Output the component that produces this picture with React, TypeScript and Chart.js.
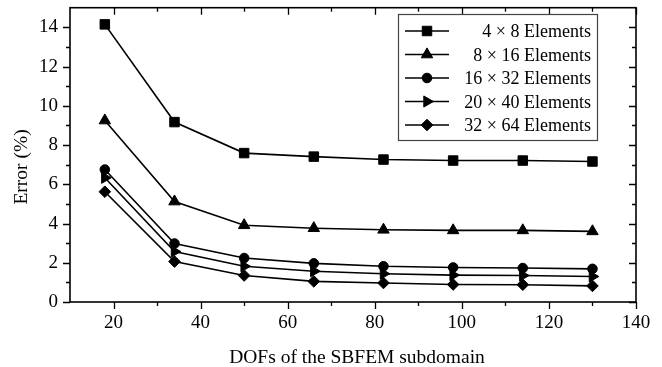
import React, { useEffect, useRef } from 'react';
import { Chart, registerables } from 'chart.js';

Chart.register(...registerables);

// ---- data ----
const dofs = [18, 34, 50, 66, 82, 98, 114, 130];
const err4x8 = [14.15, 9.17, 7.59, 7.41, 7.26, 7.21, 7.21, 7.16];
const err8x16 = [9.25, 5.12, 3.91, 3.76, 3.68, 3.65, 3.65, 3.6];
const err16x32 = [6.75, 2.98, 2.24, 1.97, 1.82, 1.76, 1.73, 1.69];
const err20x40 = [6.33, 2.57, 1.82, 1.57, 1.44, 1.37, 1.35, 1.3];
const err32x64 = [5.62, 2.06, 1.35, 1.05, 0.97, 0.89, 0.88, 0.82];

const seriesLabels = [
  '4 × 8 Elements',
  '8 × 16 Elements',
  '16 × 32 Elements',
  '20 × 40 Elements',
  '32 × 64 Elements',
];

const xTickValues = [20, 40, 60, 80, 100, 120, 140];
const xMinorValues = [30, 50, 70, 90, 110, 130];
const yTickValues = [0, 2, 4, 6, 8, 10, 12, 14];
const yMinorValues = [1, 3, 5, 7, 9, 11, 13];

const xTitle = 'DOFs of the SBFEM subdomain';
const yTitle = 'Error (%)';

const FONT = '"Liberation Serif", "Times New Roman", serif';

const markerStyles = ['rect', 'triangle', 'circle', 'triangle', 'rectRot'];
const markerRotations = [0, 0, 0, 90, 0];
const markerRadii = [6.7, 6.6, 4.8, 6.4, 5.8];

function drawMarker(ctx: CanvasRenderingContext2D, style: string, rot: number, r: number, cx: number, cy: number) {
  ctx.beginPath();
  if (style === 'rect') {
    const s = r * Math.SQRT1_2;
    ctx.rect(cx - s, cy - s, 2 * s, 2 * s);
  } else if (style === 'circle') {
    ctx.arc(cx, cy, r, 0, Math.PI * 2);
  } else if (style === 'triangle') {
    let rad = (rot * Math.PI) / 180;
    ctx.moveTo(cx + Math.sin(rad) * r, cy - Math.cos(rad) * r);
    rad += (2 * Math.PI) / 3;
    ctx.lineTo(cx + Math.sin(rad) * r, cy - Math.cos(rad) * r);
    rad += (2 * Math.PI) / 3;
    ctx.lineTo(cx + Math.sin(rad) * r, cy - Math.cos(rad) * r);
    ctx.closePath();
  } else if (style === 'rectRot') {
    ctx.moveTo(cx, cy - r);
    ctx.lineTo(cx + r, cy);
    ctx.lineTo(cx, cy + r);
    ctx.lineTo(cx - r, cy);
    ctx.closePath();
  }
  ctx.fill();
  ctx.stroke();
}

const framePlugin = {
  id: 'originFrame',
  afterDraw(chart: any) {
    const { ctx, chartArea: a, scales } = chart;
    const xs = scales.x;
    const ys = scales.y;
    const MAJ = 7;
    const MIN = 4;
    ctx.save();
    ctx.strokeStyle = '#000';
    ctx.fillStyle = '#000';
    ctx.lineWidth = 1.6;
    ctx.strokeRect(a.left, a.top, a.right - a.left, a.bottom - a.top);

    ctx.lineWidth = 1.3;
    ctx.beginPath();
    const xTick = (v: number, len: number) => {
      const p = Math.round(xs.getPixelForValue(v)) + 0.5;
      ctx.moveTo(p, a.bottom);
      ctx.lineTo(p, a.bottom + len);
      ctx.moveTo(p, a.top);
      ctx.lineTo(p, a.top + len);
    };
    const yTick = (v: number, len: number) => {
      const p = Math.round(ys.getPixelForValue(v)) + 0.5;
      ctx.moveTo(a.left, p);
      ctx.lineTo(a.left - len, p);
      ctx.moveTo(a.right, p);
      ctx.lineTo(a.right - len, p);
    };
    xTickValues.forEach((v) => xTick(v, MAJ));
    xMinorValues.forEach((v) => xTick(v, MIN));
    yTickValues.forEach((v) => yTick(v, MAJ));
    yMinorValues.forEach((v) => yTick(v, MIN));
    ctx.stroke();

    // legend
    const lx0 = 398, ly0 = 14, lx1 = 597, ly1 = 140;
    ctx.fillStyle = '#fff';
    ctx.fillRect(lx0, ly0, lx1 - lx0, ly1 - ly0);
    ctx.strokeStyle = '#444';
    ctx.lineWidth = 1.2;
    ctx.strokeRect(lx0 + 0.5, ly0 + 0.5, lx1 - lx0, ly1 - ly0);
    ctx.font = `18px ${FONT}`;
    ctx.textAlign = 'right';
    ctx.textBaseline = 'alphabetic';
    seriesLabels.forEach((label, i) => {
      const cy = 31 + i * 23.5;
      ctx.strokeStyle = '#000';
      ctx.fillStyle = '#000';
      ctx.lineWidth = 1.6;
      ctx.beginPath();
      ctx.moveTo(405, cy);
      ctx.lineTo(449, cy);
      ctx.stroke();
      ctx.lineWidth = 1;
      drawMarker(ctx, markerStyles[i], markerRotations[i], markerRadii[i], 427, cy);
      ctx.fillText(label, 591, cy + 6);
    });

    // axis titles
    ctx.fillStyle = '#000';
    ctx.font = `19.5px ${FONT}`;
    ctx.textAlign = 'center';
    ctx.textBaseline = 'alphabetic';
    ctx.fillText(xTitle, 357, 363);
    ctx.save();
    ctx.translate(27, 167);
    ctx.rotate(-Math.PI / 2);
    ctx.fillText(yTitle, 0, 0);
    ctx.restore();

    ctx.restore();
  },
};

export default function App() {
  const canvasRef = useRef<HTMLCanvasElement | null>(null);

  useEffect(() => {
    const canvas = canvasRef.current;
    if (!canvas) return;
    const seriesValues = [err4x8, err8x16, err16x32, err20x40, err32x64];
    const chart = new Chart(canvas, {
      type: 'line',
      data: {
        datasets: seriesValues.map((vals, i) => ({
          label: seriesLabels[i],
          data: dofs.map((d, j) => ({ x: d, y: vals[j] })),
          borderColor: '#000',
          backgroundColor: '#000',
          pointBackgroundColor: '#000',
          pointBorderColor: '#000',
          pointBorderWidth: 1,
          borderWidth: 1.6,
          pointStyle: markerStyles[i] as any,
          pointRotation: markerRotations[i],
          pointRadius: markerRadii[i],
          tension: 0,
          clip: false as any,
        })),
      },
      options: {
        responsive: false,
        animation: false,
        layout: { padding: { top: 4, right: 26, left: 0, bottom: 0 } },
        plugins: {
          legend: { display: false },
          tooltip: { enabled: false },
          title: { display: false },
        },
        scales: {
          x: {
            type: 'linear',
            position: 'bottom',
            min: 10,
            max: 140,
            grid: { display: false, drawTicks: false },
            border: { display: false },
            ticks: {
              color: '#000',
              font: { family: FONT, size: 19 },
              padding: 10,
              maxRotation: 0,
              autoSkip: false,
            },
            afterBuildTicks: (s: any) => {
              s.ticks = xTickValues.map((v) => ({ value: v }));
            },
            afterFit: (s: any) => {
              s.height = 65;
              s.paddingLeft = 0;
              s.paddingRight = 0;
              s.paddingTop = 0;
              s.paddingBottom = 0;
            },
          },
          y: {
            type: 'linear',
            position: 'left',
            min: 0,
            max: 15,
            grid: { display: false, drawTicks: false },
            border: { display: false },
            ticks: {
              color: '#000',
              font: { family: FONT, size: 19 },
              padding: 12,
              autoSkip: false,
            },
            afterBuildTicks: (s: any) => {
              s.ticks = yTickValues.map((v) => ({ value: v }));
            },
            afterFit: (s: any) => {
              s.width = 70;
              s.paddingTop = 0;
              s.paddingBottom = 0;
              s.paddingLeft = 0;
              s.paddingRight = 0;
            },
          },
        },
      },
      plugins: [framePlugin],
    });
    return () => chart.destroy();
  }, []);

  return (
    <div style={{ position: 'fixed', left: 0, top: 0, width: 662, height: 367, background: '#fff' }}>
      <canvas ref={canvasRef} width={662} height={367} style={{ display: 'block', width: 662, height: 367 }} />
    </div>
  );
}
